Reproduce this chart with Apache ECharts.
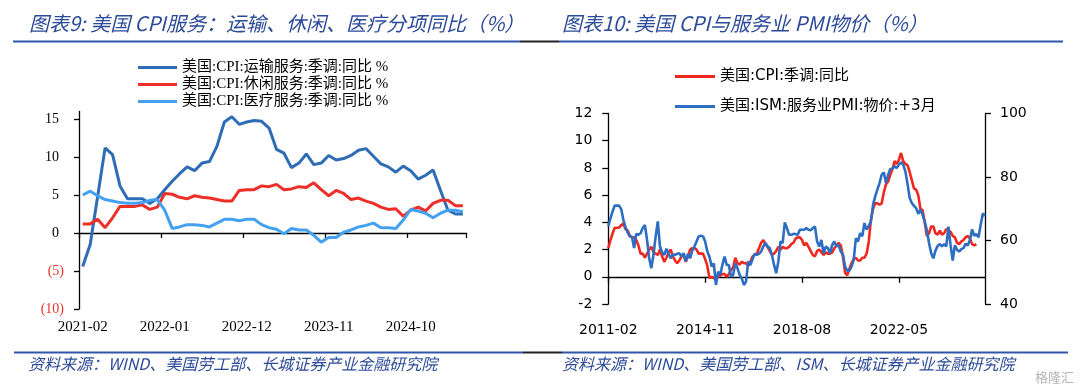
<!DOCTYPE html>
<html>
<head>
<meta charset="utf-8">
<script src="https://cdn.jsdelivr.net/npm/echarts@6/dist/echarts.min.js"></script>
<style>
html,body{margin:0;padding:0;background:#fff;}
#c{width:1080px;height:392px;}
</style>
</head>
<body>
<div id="c"></div>
<script>
// ---------- data ----------
function monthRange(y, m, n) {
  const out = [];
  for (let i = 0; i < n; i++) {
    const t = (m - 1) + i;
    out.push((y + Math.floor(t / 12)) + '-' + String(t % 12 + 1).padStart(2, '0'));
  }
  return out;
}
// Left chart: 2021-02 .. 2025-05
const leftCats = monthRange(2021, 2, 52);
const transport = [-4.4,-1.5,4.8,11.2,10.3,6.2,4.5,4.5,4.5,3.9,
  4.5,5.7,6.8,7.8,8.7,8.2,9.2,9.4,11.4,14.6,
  15.3,14.3,14.6,14.8,14.7,13.8,11.0,10.5,8.6,9.2,
  10.4,9.0,9.2,10.2,9.6,9.8,10.2,10.9,11.1,10.1,
  9.1,8.7,8.0,8.8,8.2,7.1,7.6,8.3,5.6,3.0,
  2.5,2.5];
const leisure = [1.2,1.2,1.8,0.7,2.0,3.5,3.5,3.5,3.7,3.1,
  3.4,5.2,5.1,4.7,4.5,4.9,4.7,4.6,4.4,4.2,
  4.2,5.6,5.7,5.7,6.2,6.1,6.4,5.7,5.8,6.1,
  6.0,6.6,5.7,4.9,5.6,5.2,4.4,4.6,4.2,3.9,
  3.4,3.1,3.2,2.2,3.0,3.4,2.9,3.9,4.3,4.3,
  3.6,3.6];
const medical = [5.0,5.5,4.9,4.4,4.2,4.0,3.9,3.9,4.0,4.3,
  4.4,3.0,0.6,0.8,1.1,1.1,1.0,0.8,1.3,1.8,
  1.8,1.6,1.8,1.8,1.1,0.7,0.5,-0.1,0.6,0.4,
  0.4,-0.3,-1.2,-0.6,-0.6,0.1,0.4,0.8,1.0,1.3,
  0.7,0.7,0.6,1.7,3.1,2.9,2.6,2.0,2.6,3.0,
  3.0,2.8];
const leftTicks = [-10, -5, 0, 5, 10, 15];

// Right chart: 2011-02 .. 2025-09
const rightCats = monthRange(2011, 2, 176);
const cpi = [2.1,2.7,3.2,3.6,3.6,3.6,3.8,3.9,3.5,3.4,3.0,
  2.9,2.9,2.7,2.3,1.7,1.7,1.4,1.7,2.0,2.2,1.8,1.7,
  1.6,2.0,1.5,1.1,1.4,1.8,2.0,1.5,1.2,1.0,1.2,1.5,
  1.6,1.1,1.5,2.0,2.1,2.1,2.0,1.7,1.7,1.7,1.3,0.8,
  -0.1,0.0,-0.1,-0.2,0.0,0.1,0.2,0.2,0.0,0.2,0.5,0.7,
  1.4,1.0,0.9,1.1,1.0,1.0,0.8,1.1,1.5,1.6,1.7,2.1,
  2.5,2.7,2.4,2.2,1.9,1.6,1.7,1.9,2.2,2.0,2.2,2.1,
  2.1,2.2,2.4,2.5,2.8,2.9,2.9,2.7,2.3,2.5,2.2,1.9,
  1.6,1.5,1.9,2.0,1.8,1.6,1.8,1.7,1.7,1.8,2.1,2.3,
  2.5,2.3,1.5,0.3,0.1,0.6,1.0,1.3,1.4,1.2,1.2,1.4,
  1.4,1.7,2.6,4.2,5.0,5.4,5.4,5.3,5.4,6.2,6.8,7.0,
  7.5,7.9,8.5,8.3,8.6,9.1,8.5,8.3,8.2,7.7,7.1,6.5,
  6.4,6.0,5.0,4.9,4.0,3.0,3.2,3.7,3.7,3.2,3.1,3.4,
  3.1,3.2,3.5,3.4,3.3,3.0,2.9,2.5,2.4,2.6,2.7,2.9,
  3.0,2.8,2.4,2.3,2.4];
const pmiPrices = [64.4,67,69.2,71,71,71,69.9,66.5,64.2,62.5,
  61.3,61.1,57.6,62.1,61.8,62.3,63.9,64.9,60.2,54.4,
  51.3,55.5,61.3,66,58.1,56.3,55.5,57.4,55.8,54.4,
  55.5,55.5,55.8,56,54.9,56,53.4,55.8,54.4,56.8,
  58.1,59.7,61.3,61.5,61.3,59.7,56.5,54.9,51.8,52.8,
  46.0,50.2,49.2,52.3,54.9,52.3,52.3,48.6,49.2,52.8,
  51.3,49.2,48.1,46,47.1,53.4,52.3,54.1,55.8,55.5,
  55.8,56.5,58.1,59.2,58.1,57.6,55.5,52.3,49.7,53.4,
  59.7,59.2,65.7,63.9,61.8,61.8,62.1,62,61.8,63.4,
  63.4,63.4,63.9,63.4,63.2,63.9,64.4,59.7,58.1,60.2,
  56,58.1,57.6,56,58.6,59.7,58.1,58.6,56.5,55.5,
  51.8,50.5,50.5,51.8,53.9,60.7,59.7,62.3,61.3,65.5,
  63.4,64.6,66,71.3,73.9,76,78.1,80.7,81.5,78.1,
  80.7,82.5,82.6,83.4,82.8,83.9,84.6,83.9,81.8,77.9,
  73.4,71.8,70.9,70.2,68.4,69.7,68.1,66,63.2,59.2,
  56,54.4,56.8,58.3,58.9,58.1,58.9,58.1,64.4,58.6,
  53.7,58.5,57.1,56.5,57.3,57.6,59.0,58.4,60.2,63.5,
  61.5,62.0,61.0,65.0,68.5,67.8];

const names = {
  transport: '美国:CPI:运输服务:季调:同比 %',
  leisure: '美国:CPI:休闲服务:季调:同比 %',
  medical: '美国:CPI:医疗服务:季调:同比 %',
  cpi: '美国:CPI:季调:同比',
  pmi: '美国:ISM:服务业PMI:物价:+3月'
};
const titles = ['图表9: 美国 CPI服务：运输、休闲、医疗分项同比（%）', '图表10: 美国 CPI与服务业 PMI物价（%）'];
const sources = ['资料来源：WIND、美国劳工部、长城证券产业金融研究院', '资料来源：WIND、美国劳工部、ISM、长城证券产业金融研究院'];

// ---------- styles ----------
const SERIF = '"Liberation Serif", "Noto Sans CJK SC", serif';
const SANS = '"DejaVu Sans", "Noto Sans CJK SC", sans-serif';
const CJK = '"Noto Sans CJK SC", sans-serif';
const TITLE_BLUE = '#2B4A98';
const RULE_BLUE = '#2F56A8';
const axisLineStyle = { color: '#000', width: 1.3 };

const chart = echarts.init(document.getElementById('c'), null, { renderer: 'canvas' });

const option = {
  backgroundColor: '#fff',
  animation: false,
  grid: [
    { left: 79, top: 111.4, width: 387.6, height: 197.6 },
    { left: 608.3, top: 113.5, width: 376.7, height: 190.5 }
  ],
  legend: [
    {
      data: [names.transport, names.leisure, names.medical],
      orient: 'vertical', left: 133, top: 55,
      icon: 'rect', itemWidth: 39, itemHeight: 3, itemGap: 2,
      textStyle: { fontFamily: SERIF, fontSize: 15, color: '#000' }
    },
    {
      data: [names.cpi, names.pmi],
      orient: 'vertical', left: 670, top: 64,
      icon: 'rect', itemWidth: 40, itemHeight: 3, itemGap: 15,
      textStyle: { fontFamily: SANS, fontSize: 15, color: '#000' }
    }
  ],
  xAxis: [
    { // left chart labels at bottom
      gridIndex: 0, type: 'category', data: leftCats, boundaryGap: true, position: 'bottom',
      axisLine: { show: false, onZero: false }, axisTick: { show: false }, splitLine: { show: false },
      axisLabel: { interval: 10, margin: 11, fontFamily: SERIF, fontSize: 15, color: '#000' }
    },
    { // left chart zero line with ticks
      gridIndex: 0, type: 'category', data: leftCats, boundaryGap: true, position: 'top',
      axisLine: { show: true, onZero: true, onZeroAxisIndex: 0, lineStyle: axisLineStyle },
      axisTick: { show: true, interval: 10, inside: true, length: 5, lineStyle: axisLineStyle },
      axisLabel: { show: false }, splitLine: { show: false }
    },
    { // right chart labels at bottom
      gridIndex: 1, type: 'category', data: rightCats, boundaryGap: false, position: 'bottom',
      axisLine: { show: false, onZero: false }, axisTick: { show: false }, splitLine: { show: false },
      axisLabel: { interval: 44, margin: 19, fontFamily: SANS, fontSize: 14, color: '#000' }
    },
    { // right chart zero line with ticks
      gridIndex: 1, type: 'category', data: rightCats, boundaryGap: false, position: 'top',
      axisLine: { show: true, onZero: true, onZeroAxisIndex: 1, lineStyle: axisLineStyle },
      axisTick: { show: true, interval: 44, inside: true, length: 6, lineStyle: axisLineStyle },
      axisLabel: { show: false }, splitLine: { show: false }
    }
  ],
  yAxis: [
    {
      gridIndex: 0, type: 'value', min: -10, max: 16, position: 'left',
      axisLine: { show: true, onZero: false, lineStyle: axisLineStyle },
      axisTick: { show: true, length: 5, customValues: leftTicks, lineStyle: axisLineStyle },
      splitLine: { show: false },
      axisLabel: {
        customValues: leftTicks, margin: 15,
        formatter: function (v) { return v < 0 ? '{n|(' + (-v) + ')}' : '{p|' + v + '}'; },
        rich: {
          n: { fontFamily: SERIF, fontSize: 14, color: '#E8322B' },
          p: { fontFamily: SERIF, fontSize: 14, color: '#000', padding: [0, 5, 0, 0] }
        }
      }
    },
    {
      gridIndex: 1, type: 'value', min: -2, max: 12, interval: 2, position: 'left',
      axisLine: { show: true, onZero: false, lineStyle: axisLineStyle },
      axisTick: { show: true, length: 6, lineStyle: axisLineStyle },
      splitLine: { show: false },
      axisLabel: { margin: 16, fontFamily: SANS, fontSize: 14, color: '#000' }
    },
    {
      gridIndex: 1, type: 'value', min: 40, max: 100, interval: 20, position: 'right',
      axisLine: { show: true, onZero: false, lineStyle: axisLineStyle },
      axisTick: { show: true, length: 6, lineStyle: axisLineStyle },
      splitLine: { show: false },
      axisLabel: { margin: 15, fontFamily: SANS, fontSize: 14, color: '#000' }
    }
  ],
  series: [
    { name: names.transport, type: 'line', xAxisIndex: 0, yAxisIndex: 0, data: transport,
      showSymbol: false, color: '#2E6DB6', lineStyle: { width: 3, color: '#2E6DB6' } },
    { name: names.leisure, type: 'line', xAxisIndex: 0, yAxisIndex: 0, data: leisure,
      showSymbol: false, color: '#EC2F27', lineStyle: { width: 3, color: '#EC2F27' } },
    { name: names.medical, type: 'line', xAxisIndex: 0, yAxisIndex: 0, data: medical,
      showSymbol: false, color: '#44A0F0', lineStyle: { width: 3, color: '#44A0F0' } },
    { name: names.cpi, type: 'line', xAxisIndex: 2, yAxisIndex: 1, data: cpi,
      showSymbol: false, color: '#F0271F', lineStyle: { width: 2.6, color: '#F0271F' } },
    { name: names.pmi, type: 'line', xAxisIndex: 2, yAxisIndex: 2, data: pmiPrices,
      showSymbol: false, color: '#2E6EC2', lineStyle: { width: 2.6, color: '#2E6EC2' } }
  ],
  graphic: [
    { type: 'text', left: 29, top: 13, style: { text: titles[0], fill: TITLE_BLUE, font: 'italic 20px ' + CJK } },
    { type: 'text', left: 562, top: 13, style: { text: titles[1], fill: TITLE_BLUE, font: 'italic 20px ' + CJK } },
    { type: 'line', shape: { x1: 13, y1: 41.5, x2: 520, y2: 41.5 }, style: { stroke: RULE_BLUE, lineWidth: 1.8 } },
    { type: 'line', shape: { x1: 520, y1: 41.5, x2: 559, y2: 41.5 }, style: { stroke: '#222', lineWidth: 1.8 } },
    { type: 'line', shape: { x1: 559, y1: 41.5, x2: 1063, y2: 41.5 }, style: { stroke: RULE_BLUE, lineWidth: 1.8 } },
    { type: 'line', shape: { x1: 14, y1: 352.5, x2: 523, y2: 352.5 }, style: { stroke: RULE_BLUE, lineWidth: 1.8 } },
    { type: 'line', shape: { x1: 523, y1: 352.5, x2: 562, y2: 352.5 }, style: { stroke: '#222', lineWidth: 1.8 } },
    { type: 'line', shape: { x1: 562, y1: 352.5, x2: 1068, y2: 352.5 }, style: { stroke: RULE_BLUE, lineWidth: 1.8 } },
    { type: 'text', left: 28, top: 356, style: { text: sources[0], fill: TITLE_BLUE, font: 'italic 16px ' + CJK } },
    { type: 'text', left: 562, top: 356, style: { text: sources[1], fill: TITLE_BLUE, font: 'italic 16px ' + CJK } },
    { type: 'text', right: 6, top: 371, style: { text: '格隆汇', fill: '#b5b5b5', font: '13px ' + CJK } }
  ]
};
chart.setOption(option);
</script>
</body>
</html>
